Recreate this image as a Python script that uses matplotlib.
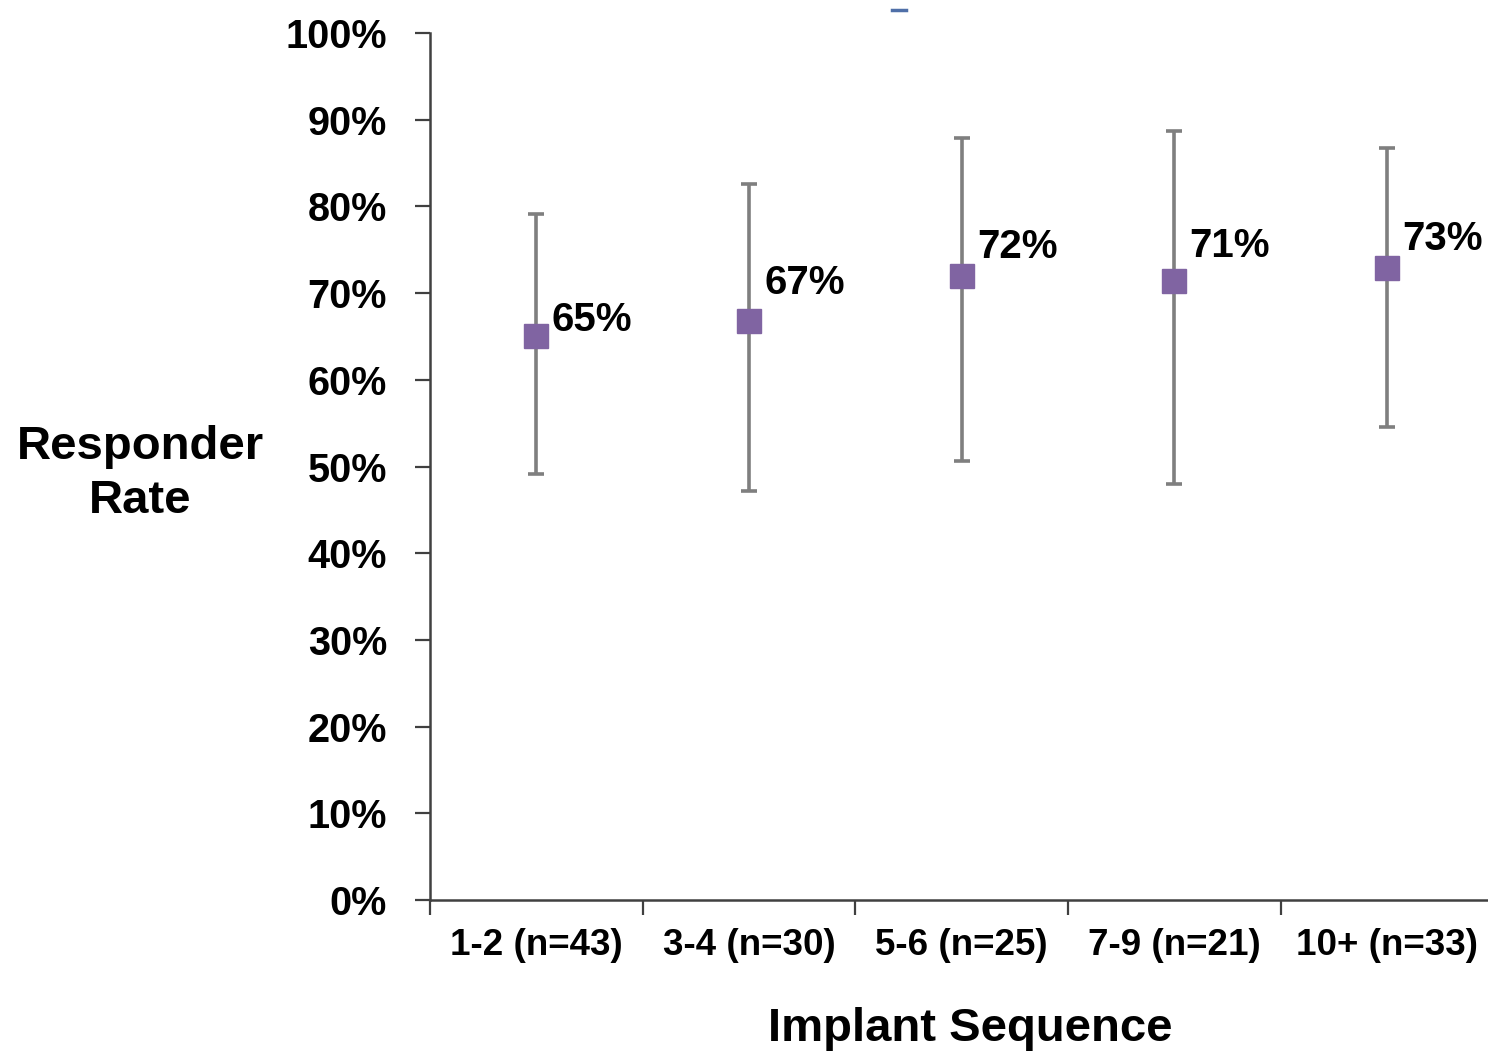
import matplotlib
matplotlib.use("Agg")
import matplotlib.pyplot as plt
from matplotlib.lines import Line2D
from matplotlib.ticker import FuncFormatter

plt.rcParams['font.family'] = ['Liberation Sans', 'DejaVu Sans']
plt.rcParams['font.weight'] = 'bold'

# Data
categories = ["1-2 (n=43)", "3-4 (n=30)", "5-6 (n=25)", "7-9 (n=21)", "10+ (n=33)"]
rates = [65.0, 66.8, 72.0, 71.4, 72.9]
ci_low = [49.1, 47.2, 50.6, 48.0, 54.6]
ci_high = [79.1, 82.6, 87.9, 88.7, 86.7]
value_labels = ["65%", "67%", "72%", "71%", "73%"]
y_ticks = list(range(0, 101, 10))

# Label offsets (points) relative to each marker
label_offsets = [(11, 12), (11, 27), (11, 21), (11, 25), (11, 21)]

fig = plt.figure(figsize=(14.88, 10.52), dpi=100)
ax = fig.add_axes([0.2890, 0.1445, 0.7145, 0.8241])

x = list(range(1, len(categories) + 1))
yerr = [[r - lo for r, lo in zip(rates, ci_low)],
        [hi - r for r, hi in zip(rates, ci_high)]]
ax.errorbar(x, rates, yerr=yerr, fmt='none', ecolor='#7f7f7f',
            elinewidth=2.6, capsize=6, capthick=2.6, zorder=2)
ax.plot(x, rates, linestyle='none', marker='s', markersize=17,
        markerfacecolor='#8064A2', markeredgecolor='#8064A2', zorder=3)

for xi, r, lab, off in zip(x, rates, value_labels, label_offsets):
    ax.annotate(lab, (xi, r), xytext=off, textcoords='offset points',
                ha='left', va='center', fontsize=29, fontweight='bold',
                color='black')

ax.set_xlim(0.5, len(categories) + 0.5)
ax.set_ylim(0, 100)
ax.set_yticks(y_ticks)
ax.yaxis.set_major_formatter(FuncFormatter(lambda v, p: f"{int(v)}%"))
ax.set_xticks([i + 0.5 for i in range(len(categories) + 1)], minor=False)
ax.set_xticklabels([])
ax.set_xticks(x, minor=True)
ax.set_xticklabels(categories, minor=True)
ax.tick_params(axis='x', which='minor', length=0, pad=20, labelsize=26.5)
ax.tick_params(axis='x', which='major', length=11, width=1.6,
               direction='out', color='#404040')
ax.tick_params(axis='y', length=11, width=1.6, direction='out',
               color='#404040', pad=20, labelsize=28.5)
for lbl in ax.get_xticklabels(minor=True) + ax.get_yticklabels():
    lbl.set_fontweight('bold')

for side in ('top', 'right'):
    ax.spines[side].set_visible(False)
for side in ('left', 'bottom'):
    ax.spines[side].set_color('#404040')
    ax.spines[side].set_linewidth(1.8)

fig.text(140 / 1488, 1 - 474 / 1052, "Responder\nRate", ha='center',
         va='center', fontsize=34, fontweight='bold', linespacing=1.3)
fig.text(970 / 1488, 1 - 1029 / 1052, "Implant Sequence", ha='center',
         va='center', fontsize=34, fontweight='bold')

# small legend-key remnant at the top edge
fig.add_artist(Line2D([892 / 1488, 906 / 1488], [1 - 10 / 1052, 1 - 10 / 1052],
                      transform=fig.transFigure, color='#4F6FA8', linewidth=2.5))

fig.savefig("out.png", dpi=100, facecolor='white')
